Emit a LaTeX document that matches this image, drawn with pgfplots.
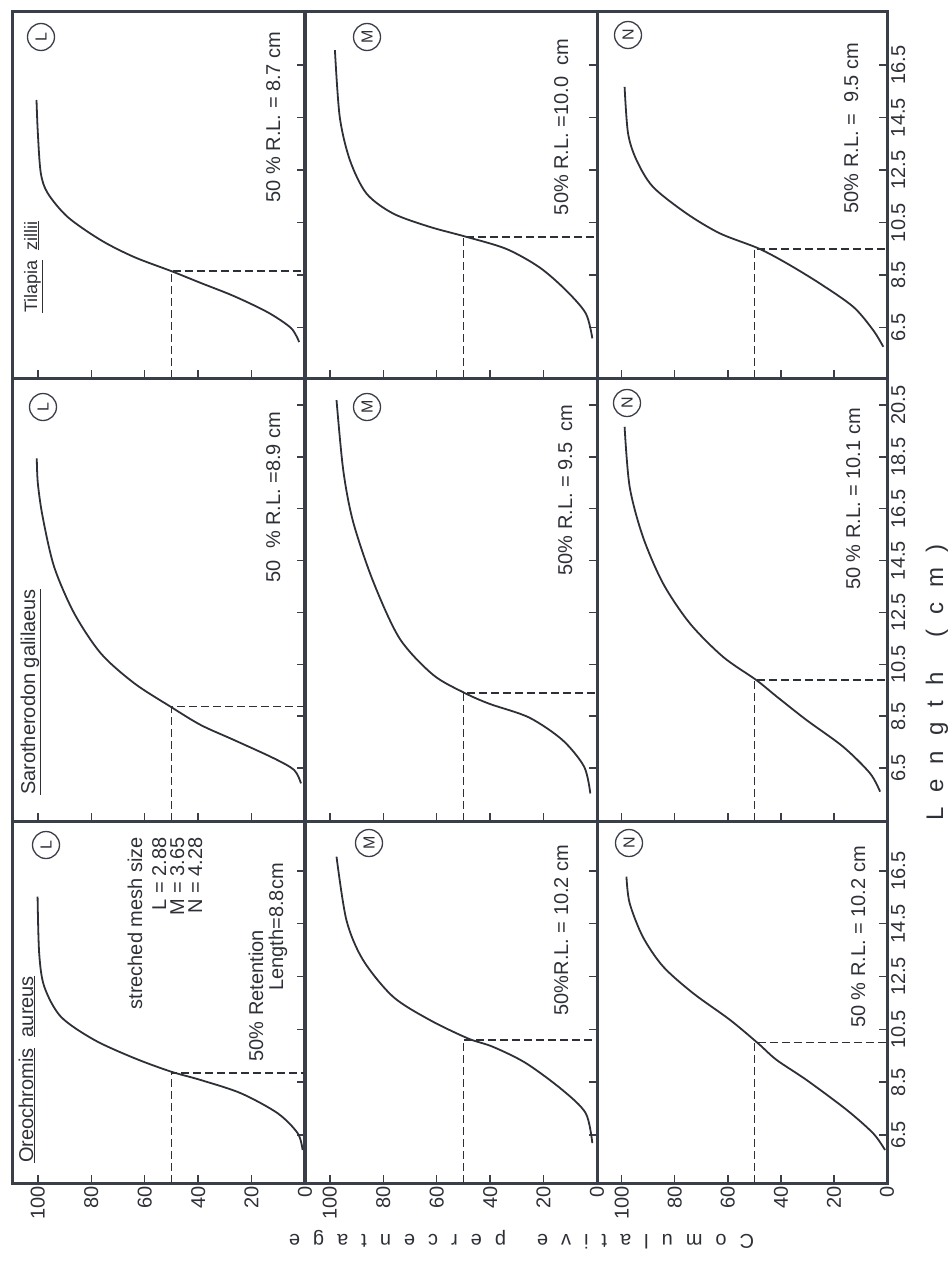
\documentclass[border=0pt]{standalone}
\usepackage{pgfplots}
\pgfplotsset{compat=1.18}
\usepackage{fontspec}
\setmainfont{Liberation Sans}
\definecolor{ink}{RGB}{58,62,72}
\definecolor{txt}{RGB}{45,48,55}
\newdimen\lsp
\def\spaced#1{\spacedi#1\relax}
\def\spacedi#1{\ifx\relax#1\else#1\kern\lsp\expandafter\spacedi\fi}
\pgfplotsset{
  panel/.style={scale only axis, x dir=reverse, xmin=0, xmax=109.3,
    anchor=north west,
    axis line style={line width=3pt, ink},
    tick style={line width=1.5pt, ink},
    major tick length=8pt, tick align=inside,
    xtick={0,20,40,60,80,100}, xtick pos=bottom, xticklabels={},
    ytick pos=right, yticklabels={},
    ticklabel style={font=\fontsize{20}{20}\selectfont, text=txt},
    xticklabel style={rotate=90, anchor=east, inner sep=3pt},
    yticklabel style={rotate=90, anchor=north, inner sep=4pt},
  },
  curve/.style={line width=1.8pt, txt, smooth, no marks},
  dsh/.style={line width=1.5pt, txt, dash pattern=on 8pt off 4pt, no marks},
}
\tikzset{
  ann/.style={rotate=90, font=\fontsize{20}{24}\selectfont, text=txt, inner sep=0pt},
  lab/.style={circle, draw=ink, line width=1.3pt, minimum size=27pt, inner sep=0pt, rotate=90, font=\fontsize{16}{16}\selectfont, text=txt},
}
\begin{document}
\begin{tikzpicture}[x=1pt,y=1pt]
% ---------------- Tilapia zillii (top band) ----------------
\begin{axis}[panel, at={(13pt,-11pt)}, width=292pt, height=367pt, ymin=4.58, ymax=18.56, ytick={6.5,8.5,10.5,12.5,14.5,16.5}]
\addplot[curve] coordinates {(2.2,5.95) (5.2,6.48) (13.9,7.08) (26.6,7.7) (39,8.2) (50,8.65) (64,9.19) (76.4,9.83) (88.8,10.71) (96.3,11.62) (98.9,12.39) (100,13.91) (100.5,15.17)};
\addplot[dsh] coordinates {(50,4.58) (50,8.65) (0,8.65)};
\end{axis}
\begin{axis}[panel, at={(305pt,-11pt)}, width=292pt, height=367pt, ymin=4.58, ymax=18.56, ytick={6.5,8.5,10.5,12.5,14.5,16.5}]
\addplot[curve] coordinates {(1.75,6.09) (4.2,7.04) (11.7,7.93) (21.6,8.8) (34,9.5) (49,9.96) (62.7,10.34) (76.4,10.85) (86.3,11.61) (92.5,12.88) (96.3,14.53) (98.1,17.07)};
\addplot[dsh] coordinates {(50,4.58) (50,9.95) (0,9.95)};
\end{axis}
\begin{axis}[panel, at={(597pt,-11pt)}, width=290pt, height=367pt, ymin=4.58, ymax=18.56, ytick={6.5,8.5,10.5,12.5,14.5,16.5}, yticklabels={6.5,8.5,10.5,12.5,14.5,16.5}]
\addplot[curve] coordinates {(1.4,5.77) (5.2,6.4) (12.7,7.29) (25.3,8.18) (37.8,8.95) (48.5,9.52) (63,10.09) (75.6,10.85) (88.2,11.86) (94.4,12.88) (97.6,13.9) (98.9,15.67)};
\addplot[dsh] coordinates {(50,4.58) (50,9.5) (0,9.5)};
\end{axis}
% ---------------- Sarotherodon galilaeus (middle band) ----------------
\begin{axis}[panel, at={(13pt,-378pt)}, width=292pt, height=443pt, ymin=4.46, ymax=21.54, ytick={6.5,8.5,10.5,12.5,14.5,16.5,18.5,20.5}]
\addplot[curve] coordinates {(1.5,5.91) (4,6.42) (11.5,6.87) (26.5,7.58) (39,8.16) (50.2,8.86) (63.9,9.77) (76.4,10.92) (86.4,12.47) (93.9,14.26) (98.2,16.19) (100,17.48) (100.4,18.44)};
\addplot[dsh] coordinates {(50,4.46) (50,8.87) (0,8.87)};
\end{axis}
\begin{axis}[panel, at={(305pt,-378pt)}, width=292pt, height=443pt, ymin=4.46, ymax=21.54, ytick={6.5,8.5,10.5,12.5,14.5,16.5,18.5,20.5}]
\addplot[curve] coordinates {(2.5,5.52) (4.8,6.55) (12.9,7.58) (25.4,8.45) (40.3,8.98) (49.6,9.4) (61.4,10.1) (73.9,11.5) (83.8,13.7) (91.3,16.0) (95,18.0) (97.5,20.69)};
\addplot[dsh] coordinates {(50,4.46) (50,9.4) (0,9.4)};
\end{axis}
\begin{axis}[panel, at={(597pt,-378pt)}, width=290pt, height=443pt, ymin=4.46, ymax=21.54, ytick={6.5,8.5,10.5,12.5,14.5,16.5,18.5,20.5}, yticklabels={6.5,8.5,10.5,12.5,14.5,16.5,18.5,20.5}]
\addplot[curve] coordinates {(2.6,5.59) (6.4,6.3) (16.5,7.32) (30.3,8.35) (41.6,9.26) (49.2,9.89) (61.8,10.79) (74.3,12.08) (84.4,13.62) (92,15.42) (97,17.35) (98.9,19.66)};
\addplot[dsh] coordinates {(50,4.46) (50,9.9) (0,9.9)};
\end{axis}
% ---------------- Oreochromis aureus (bottom band) ----------------
\begin{axis}[panel, at={(13pt,-821pt)}, width=292pt, height=362pt, ymin=4.68, ymax=18.39, ytick={6.5,8.5,10.5,12.5,14.5,16.5}, xticklabels={0,20,40,60,80,100}]
\addplot[curve] coordinates {(0.9,5.93) (2.7,6.56) (10.2,7.32) (24,8.08) (39,8.58) (50.2,8.9) (63.9,9.41) (78.9,10.1) (91.4,10.98) (97.6,12.12) (99.5,13.38) (100.1,15.53)};
\addplot[dsh] coordinates {(50,4.68) (50,8.85) (0,8.85)};
\end{axis}
\begin{axis}[panel, at={(305pt,-821pt)}, width=292pt, height=362pt, ymin=4.68, ymax=18.39, ytick={6.5,8.5,10.5,12.5,14.5,16.5}, xticklabels={0,20,40,60,80,100}]
\addplot[curve] coordinates {(1.75,6.19) (4.2,7.32) (12.9,8.2) (26.6,9.22) (39,9.84) (48.4,10.16) (62.7,10.86) (76.4,11.74) (87.6,13.13) (93.8,14.64) (97.5,17.04)};
\addplot[dsh] coordinates {(50,4.68) (50,10.1) (0,10.1)};
\end{axis}
\begin{axis}[panel, at={(597pt,-821pt)}, width=290pt, height=362pt, ymin=4.68, ymax=18.39, ytick={6.5,8.5,10.5,12.5,14.5,16.5}, yticklabels={6.5,8.5,10.5,12.5,14.5,16.5}, xticklabels={0,20,40,60,80,100}]
\addplot[curve] coordinates {(0.75,5.93) (5.2,6.56) (15.2,7.45) (30.3,8.58) (41.6,9.34) (48.6,9.97) (59.2,10.86) (73.1,11.87) (84.4,12.88) (92,14.0) (97,15.28) (98.2,16.28)};
\addplot[dsh] coordinates {(50,4.68) (50,10.0) (0,10.0)};
\end{axis}
% ---------------- circled labels ----------------
\node[lab] at (41pt,-37pt) {L};
\node[lab] at (367pt,-37pt) {M};
\node[lab] at (628pt,-35pt) {N};
\node[lab] at (43pt,-407pt) {L};
\node[lab] at (367pt,-407pt) {M};
\node[lab] at (627pt,-403pt) {N};
\node[lab] at (46pt,-845pt) {L};
\node[lab] at (369pt,-843pt) {M};
\node[lab] at (629pt,-843pt) {N};
% ---------------- species names ----------------
\node[ann, anchor=base west, font=\fontsize{18}{20}\selectfont] at (37pt,-313pt) {\underline{Tilapia}~~\underline{zillii}};
\node[ann, anchor=base west] at (35pt,-795pt) {\underline{Sarotherodon galilaeus}};
\node[ann, anchor=base west] at (33pt,-1163pt) {\underline{Oreochromis}~~\underline{aureus}};
% ---------------- annotations ----------------
\node[ann, anchor=base] at (280pt,-117pt) {50 \% R.L. = 8.7 cm};
\node[ann, anchor=base] at (568pt,-127pt) {50\% R.L. =10.0~~cm};
\node[ann, anchor=base] at (858pt,-128pt) {50\% R.L. =~~9.5 cm};
\node[ann, anchor=base] at (280pt,-497pt) {50~~\%~R.L. =8.9 cm};
\node[ann, anchor=base] at (572pt,-490pt) {50\% R.L. = 9.5~~cm};
\node[ann, anchor=base] at (860pt,-499pt) {50 \% R.L. = 10.1 cm};
\node[ann, anchor=base] at (568pt,-930pt) {50\%R.L. = 10.2 cm};
\node[ann, anchor=base] at (865pt,-937pt) {50 \% R.L. = 10.2 cm};
\node[ann, anchor=base east] at (142pt,-837pt) {streched mesh size};
\node[ann, anchor=base east] at (166pt,-837pt) {L = 2.88};
\node[ann, anchor=base east] at (184pt,-837pt) {M = 3.65};
\node[ann, anchor=base east] at (202pt,-837pt) {N = 4.28};
\node[ann, anchor=base east] at (263pt,-930pt) {50\% Retention};
\node[ann, anchor=base east] at (283pt,-863pt) {Length=8.8cm};
% ---------------- axis titles ----------------
\node[rotate=180, text=txt, font=\fontsize{20}{20}\selectfont, inner sep=0pt] at (515pt,-1240pt) {\lsp=13pt\spaced{Comulative}\hspace{18pt}\spaced{percentage}};
\node[rotate=90, anchor=base, text=txt, font=\fontsize{24}{24}\selectfont, inner sep=0pt] at (943pt,-675pt) {\lsp=15pt\spaced{Length}\hspace{20pt}\spaced{(cm)}};
% fixed picture size, 950 x 1261
\pgfresetboundingbox
\path[use as bounding box] (0pt,0pt) rectangle (950pt,-1261pt);
\end{tikzpicture}
\end{document}
